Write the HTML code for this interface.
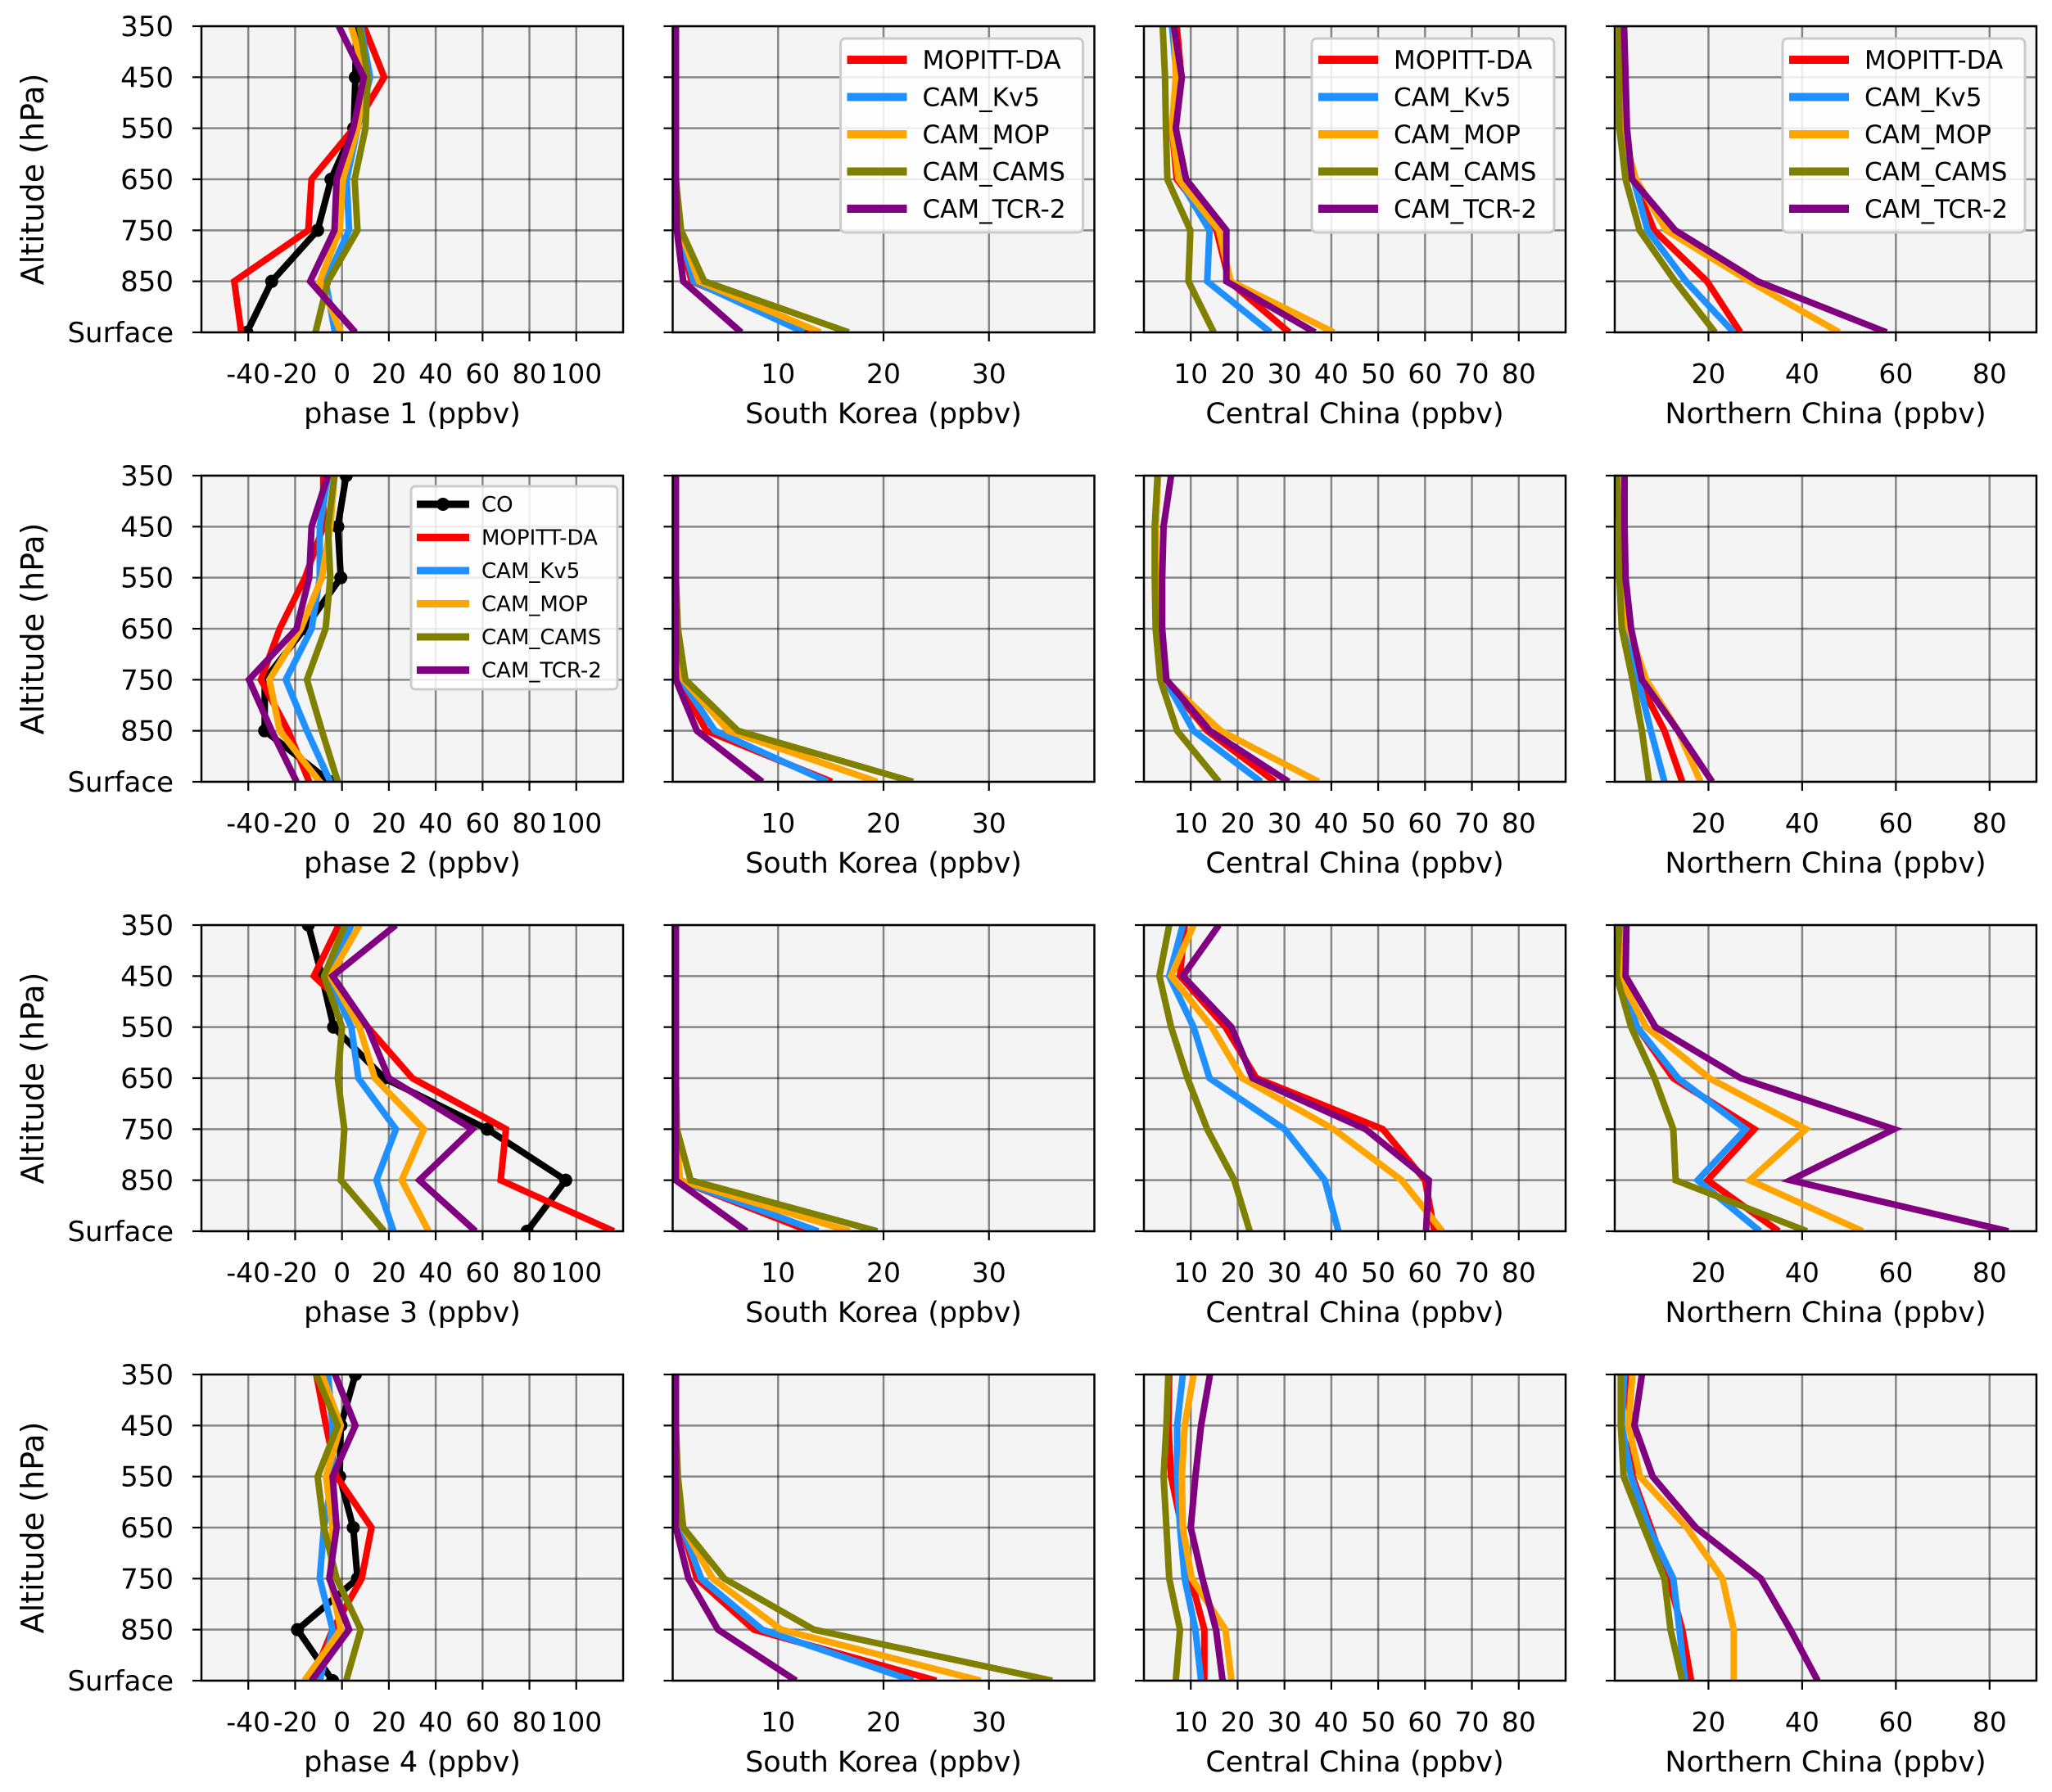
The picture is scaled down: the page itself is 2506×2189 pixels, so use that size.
<!DOCTYPE html>
<html><head><meta charset="utf-8">
<style>
html,body{margin:0;padding:0;background:#fff;}
svg{display:block;font-family:"DejaVu Sans","Liberation Sans",sans-serif;}
</style></head>
<body>
<svg id="fig" width="2506" height="2189" viewBox="0 0 2506 2189" xmlns="http://www.w3.org/2000/svg"></svg>
<script>
// ---- data ----
const levels = ["350","450","550","650","750","850","Surface"];
const seriesNames = ["MOPITT-DA","CAM_Kv5","CAM_MOP","CAM_CAMS","CAM_TCR-2"];
const seriesColors = ["#ff0000","#1e90ff","#ffa500","#808000","#800080"];
const rowNames = ["phase 1","phase 2","phase 3","phase 4"];
const colNames = ["phase","South Korea","Central China","Northern China"];

const phaseTicks = [-40,-20,0,20,40,60,80,100];
const skTicks = [10,20,30];
const ccTicks = [10,20,30,40,50,60,70,80];
const ncTicks = [20,40,60,80];
const phaseLim = [-60,120];
const skLim = [0,40];
const ccLim = [0,90];
const ncLim = [0,90];

const co1 = [6,5.7,5,-4.7,-10.4,-30,-40.6];
const co2 = [1.8,-1.8,-0.5,-16,-33,-33,-5];
const co3 = [-14.4,-8.6,-3.6,18,62,95.5,79];
const co4 = [5.7,-0.5,-1,4.8,6.6,-19,-4];

const p1_red=[9.3,18,5,-13,-14.4,-46,-43];
const p1_blue=[8,12,6.6,2,3,-7,-3];
const p1_orange=[4,10,6.6,0.4,-1,-9.5,-0.5];
const p1_olive=[7.5,11,10,5.4,6.6,-6,-11.3];
const p1_purple=[-1.4,9.3,4.8,-2.3,-3.2,-13.6,5.7];

const p2_red=[-8,-8,-15.8,-26.6,-34.6,-23,-14];
const p2_blue=[-6,-9.5,-9.5,-13,-24,-15,-5];
const p2_orange=[-3.2,-5,-8.6,-17.6,-31,-26.6,-9.5];
const p2_olive=[-3.2,-6,-5,-7,-15,-8.6,-1.8];
const p2_purple=[-6,-13,-14,-19.4,-39.7,-30,-19.4];

const p3_red=[-1.4,-12,11,30,70,67.7,116];
const p3_blue=[4,-6,4,7,23,14.7,22];
const p3_orange=[7.5,-5,7.5,14,35,25.5,37];
const p3_olive=[1.3,-7.7,0,-1.8,1,-0.5,18];
const p3_purple=[23,-4,11,20,55.7,33,57];

const p4_red=[-11,-6.8,-2.3,12.6,8.4,-4,-13];
const p4_blue=[-6,-4,-4,-7.7,-9.5,-4,-9.5];
const p4_orange=[-8.6,-0.5,-6.8,-4,-5,-0.5,-16];
const p4_olive=[-11,-1.8,-10.4,-7.7,-2.3,8,1.8];
const p4_purple=[-3,5.7,-4,-2.3,-5.4,3,-13];

const sk1_red=[0.3,0.3,0.3,0.3,0.5,1.8,13.5];
const sk1_blue=[0.3,0.3,0.3,0.3,0.6,2,12.5];
const sk1_orange=[0.3,0.3,0.3,0.3,0.7,2.5,14];
const sk1_olive=[0.3,0.3,0.3,0.3,0.8,3,16.7];
const sk1_purple=[0.3,0.3,0.3,0.3,0.4,1,6.5];

const sk2_red=[0.3,0.3,0.3,0.3,0.5,3.2,15.1];
const sk2_blue=[0.3,0.3,0.3,0.3,0.8,4,14.7];
const sk2_orange=[0.3,0.3,0.3,0.3,1,5.3,19.4];
const sk2_olive=[0.3,0.3,0.3,0.5,1.2,6.2,22.8];
const sk2_purple=[0.3,0.3,0.3,0.3,0.3,2.3,8.5];

const sk3_red=[0.3,0.3,0.3,0.3,0.3,0.6,13];
const sk3_blue=[0.3,0.3,0.3,0.3,0.3,0.6,13.8];
const sk3_orange=[0.3,0.3,0.3,0.3,0.3,0.7,16.8];
const sk3_olive=[0.3,0.3,0.3,0.3,0.4,1.7,19.4];
const sk3_purple=[0.3,0.3,0.3,0.3,0.3,0.3,7];

const sk4_red=[0.3,0.3,0.3,0.9,2.3,7.7,25];
const sk4_blue=[0.3,0.3,0.3,0.9,2.7,8.5,22.8];
const sk4_orange=[0.3,0.3,0.3,1,3.8,10.3,29.2];
const sk4_olive=[0.3,0.3,0.5,1,4.9,13.4,36];
const sk4_purple=[0.3,0.3,0.3,0.3,1.5,4.3,11.7];

const cc1_red=[7,8,6,7,15.5,18.2,31];
const cc1_blue=[6,7,6,7.5,14,13.5,27];
const cc1_orange=[6.5,6.8,6,7.4,16,18.5,40.5];
const cc1_olive=[4,4.5,4.7,5,9.9,9.5,14.9];
const cc1_purple=[6.4,8.1,6.8,9,17.6,17.6,36.5];

const cc2_red=[3,2.5,2.5,3,4.5,13.5,28];
const cc2_blue=[3,2.5,2.5,3,4.5,10.6,25];
const cc2_orange=[3,2.5,2.5,3,4.5,16.4,37.3];
const cc2_olive=[2.9,2.3,2.3,2.5,3.5,7.1,16];
const cc2_purple=[5.8,4.2,3.9,3.9,4.8,14.1,30.9];

const cc3_red=[8.7,7.7,17.4,24,51,60,62];
const cc3_blue=[8.3,5.4,10.6,14,30,38.6,41.5];
const cc3_orange=[10.6,5.8,14.5,21,40.5,55,63.7];
const cc3_olive=[5.4,3.3,5.8,9.3,13.5,19.3,22.6];
const cc3_purple=[16,8.3,18.7,23.2,47.3,60.8,60.2];

const cc4_red=[5.4,5.2,5.8,8.1,10,12.9,12.9];
const cc4_blue=[8.3,7.1,7.1,7.7,8.7,11,12.2];
const cc4_orange=[10.6,8.7,8.1,8.3,10.2,17.4,18.7];
const cc4_olive=[5.2,4.8,4.2,4.8,5.4,7.7,6.8];
const cc4_purple=[14.1,12.2,11,10,12.5,15.4,16.8];

const nc1_red=[1,1.5,1.5,4,8.4,19.7,26.8];
const nc1_blue=[1,1,1,4,7,15.2,25.4];
const nc1_orange=[1.5,1.5,1.5,4.5,11,28.8,47.9];
const nc1_olive=[1,1,1,2.3,5.3,12.9,21.4];
const nc1_purple=[2,2.3,2.6,3.7,12.9,30.5,58];

const nc2_red=[1.5,1.5,1.5,2.5,5,10.6,14.4];
const nc2_blue=[1,1,1,2,5,7.7,10.6];
const nc2_orange=[1,1,1,3,6.7,13.5,18.3];
const nc2_olive=[0.5,1,1,1.5,3.8,5.8,7.3];
const nc2_purple=[2.1,2.1,2.3,3.5,5.8,13.5,20.8];

const nc3_red=[1,1,4.8,12.5,29.8,19.8,35];
const nc3_blue=[1,1,4.8,13.5,27.9,17.7,31];
const nc3_orange=[1,1,6.7,20.2,40.8,28.8,52.9];
const nc3_olive=[1,0.4,3.5,8.5,12.5,13,41];
const nc3_purple=[2.5,2.3,8.7,26.9,59.6,37.5,84];

const nc4_red=[2.3,3.5,3.8,7.7,11.5,14.4,16.3];
const nc4_blue=[2,1.5,3.5,7.3,12.5,13.8,15];
const nc4_orange=[3.8,2.9,5.4,15.4,23,25.4,25.4];
const nc4_olive=[1.3,1.3,1.9,6.2,10.6,11.9,14.4];
const nc4_purple=[5.8,4.2,8.1,17.3,31.2,37.5,43.3];

// ---- layout ----
const NS="http://www.w3.org/2000/svg";
const svg=document.getElementById('fig');
const colLeft=[246,821.5,1397,1972];
const rowTop=[32,581,1130,1679];
const W=515, H=374;
const FS=31;

function el(tag,attrs,parent){const e=document.createElementNS(NS,tag);for(const k in attrs)e.setAttribute(k,attrs[k]);(parent||svg).appendChild(e);return e;}

const grid=[
 [[co1,p1_red,p1_blue,p1_orange,p1_olive,p1_purple],[sk1_red,sk1_blue,sk1_orange,sk1_olive,sk1_purple],[cc1_red,cc1_blue,cc1_orange,cc1_olive,cc1_purple],[nc1_red,nc1_blue,nc1_orange,nc1_olive,nc1_purple]],
 [[co2,p2_red,p2_blue,p2_orange,p2_olive,p2_purple],[sk2_red,sk2_blue,sk2_orange,sk2_olive,sk2_purple],[cc2_red,cc2_blue,cc2_orange,cc2_olive,cc2_purple],[nc2_red,nc2_blue,nc2_orange,nc2_olive,nc2_purple]],
 [[co3,p3_red,p3_blue,p3_orange,p3_olive,p3_purple],[sk3_red,sk3_blue,sk3_orange,sk3_olive,sk3_purple],[cc3_red,cc3_blue,cc3_orange,cc3_olive,cc3_purple],[nc3_red,nc3_blue,nc3_orange,nc3_olive,nc3_purple]],
 [[co4,p4_red,p4_blue,p4_orange,p4_olive,p4_purple],[sk4_red,sk4_blue,sk4_orange,sk4_olive,sk4_purple],[cc4_red,cc4_blue,cc4_orange,cc4_olive,cc4_purple],[nc4_red,nc4_blue,nc4_orange,nc4_olive,nc4_purple]]
];
const lims=[phaseLim,skLim,ccLim,ncLim];
const ticks=[phaseTicks,skTicks,ccTicks,ncTicks];

for(let r=0;r<4;r++){
 for(let c=0;c<4;c++){
  const x0=colLeft[c], y0=rowTop[r];
  const lim=lims[c];
  const xs=v=>x0+(v-lim[0])/(lim[1]-lim[0])*W;
  const ys=i=>y0+i*H/(levels.length-1);
  const g=el('g',{});
  
  
  el('rect',{x:x0,y:y0,width:W,height:H,fill:'#f4f4f4'},g);
  ticks[c].forEach(t=>{
   const gl=el('line',{x1:xs(t),x2:xs(t),y1:y0,y2:y0+H,stroke:'#000','stroke-opacity':0.45,'stroke-width':2.5},g);
   
   
   el('line',{x1:xs(t),x2:xs(t),y1:y0+H,y2:y0+H+11,stroke:'#000','stroke-width':2.2},g);
   const tl=el('text',{x:xs(t),y:y0+H+62,'font-size':33,'text-anchor':'middle',fill:'#000'},g);
   tl.textContent=t;
   
   
  });
  levels.forEach((lv,i)=>{
   el('line',{x1:x0,x2:x0+W,y1:ys(i),y2:ys(i),stroke:'#000','stroke-opacity':0.45,'stroke-width':2.5},g);
   el('line',{x1:x0-11,x2:x0,y1:ys(i),y2:ys(i),stroke:'#000','stroke-width':2.2},g);
   if(c===0){
    const yl=el('text',{x:x0-34,y:ys(i)+12,'font-size':34,'text-anchor':'end',fill:'#000'},g);
    yl.textContent=lv;
    
    
   }
  });
  const data=grid[r][c];
  const clip='clip'+r+'_'+c;
  const cp=el('clipPath',{id:clip},g);
  el('rect',{x:x0,y:y0,width:W,height:H},cp);
  const sg=el('g',{'clip-path':'url(#'+clip+')'},g);
  const hasCO=(c===0);
  const order=[];
  if(hasCO) order.push({vals:data[0],color:'#000',name:'CO'});
  for(let s=0;s<5;s++) order.push({vals:data[s+(hasCO?1:0)],color:seriesColors[s],name:seriesNames[s]});
  order.forEach(o=>{
   const pts=o.vals.map((v,i)=>xs(v).toFixed(1)+','+ys(i).toFixed(1)).join(' ');
   const pl=el('polyline',{points:pts,fill:'none',stroke:o.color,'stroke-width':8,'stroke-linejoin':'miter'},sg);
   
   
   if(o.name==='CO'){
    o.vals.forEach((v,i)=>{
     const m=el('circle',{cx:xs(v),cy:ys(i),r:8,fill:'#000'},sg);
     
     
    });
   }
  });
  el('rect',{x:x0,y:y0,width:W,height:H,fill:'none',stroke:'#000','stroke-width':2.5},g);
  const xl=el('text',{x:x0+W/2,y:y0+H+111,'font-size':35,'text-anchor':'middle',fill:'#000'},g);
  xl.textContent=(c===0?rowNames[r]:colNames[c])+' (ppbv)';
  
  
  if(c===0){
   const cy=y0+H/2;
   const t=el('text',{x:40,y:cy,'font-size':38,'text-anchor':'middle',transform:'rotate(-90 40 '+cy+')',fill:'#000','dominant-baseline':'central'},g);
   t.textContent='Altitude (hPa)';
   
   
  }
  if(r===0 && c>0){
   const lw=296;
   const lx=x0+W-14-lw, ly=y0+15;
   const lg=el('g',{},g);
   
   
   el('rect',{x:lx,y:ly,width:lw,height:237,rx:6,fill:'#fff','fill-opacity':0.85,stroke:'#cccccc','stroke-width':3},lg);
   seriesNames.forEach((n,i)=>{
    const yy=ly+26+i*45.5;
    el('line',{x1:lx+8,x2:lx+81,y1:yy,y2:yy,stroke:seriesColors[i],'stroke-width':10},lg);
    const tt=el('text',{x:lx+100,y:yy+11,'font-size':FS,fill:'#000'},lg);
    tt.textContent=n;
    
    
   });
  }
  if(r===1 && c===0){
   const lx=x0+256, ly=y0+13;
   const lg=el('g',{},g);
   
   
   el('rect',{x:lx,y:ly,width:252,height:248,rx:5,fill:'#fff','fill-opacity':0.85,stroke:'#cccccc','stroke-width':3},lg);
   const names=['CO'].concat(seriesNames), cols=['#000'].concat(seriesColors);
   names.forEach((n,i)=>{
    const yy=ly+22+i*40.5;
    el('line',{x1:lx+7,x2:lx+71,y1:yy,y2:yy,stroke:cols[i],'stroke-width':9},lg);
    if(i===0) el('circle',{cx:lx+39,cy:yy,r:8,fill:'#000'},lg);
    const tt=el('text',{x:lx+86,y:yy+9,'font-size':26,fill:'#000'},lg);
    tt.textContent=n;
    
    
   });
  }
 }
}
</script>
</body></html>
